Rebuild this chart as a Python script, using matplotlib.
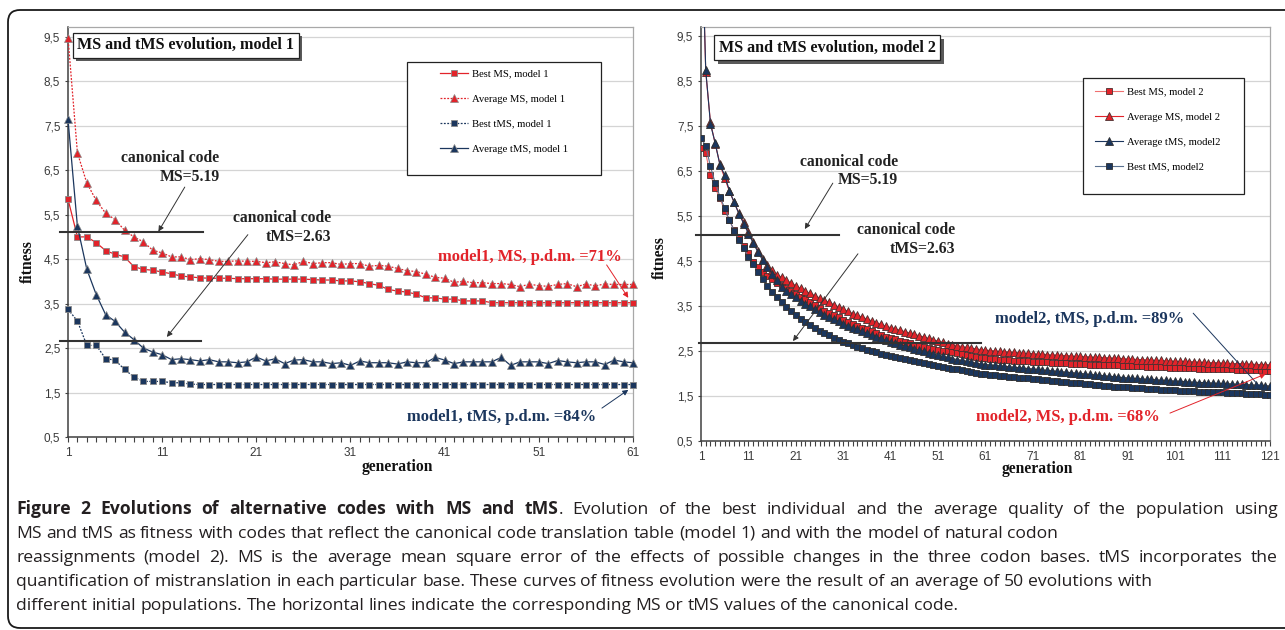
import matplotlib
matplotlib.use("Agg")
import matplotlib.pyplot as plt
import matplotlib.patheffects as pe
from matplotlib.patches import Rectangle, FancyBboxPatch
from matplotlib.ticker import FixedLocator, MultipleLocator, FuncFormatter
from matplotlib.transforms import IdentityTransform

# ---------------------------------------------------------
# Data
# ---------------------------------------------------------
gens_m1 = list(range(1, 62))
gens_m2 = list(range(1, 122))

best_ms_m1 = [5.85, 5.00, 5.00, 4.87, 4.69, 4.61, 4.55, 4.33, 4.27, 4.25,
              4.21, 4.17, 4.12, 4.10, 4.08, 4.07, 4.07, 4.07, 4.06, 4.06,
              4.06, 4.06, 4.05, 4.05, 4.05, 4.05, 4.04, 4.03, 4.03, 4.01,
              4.01, 3.99, 3.95, 3.91, 3.82, 3.78, 3.76, 3.71, 3.63, 3.63,
              3.60, 3.60, 3.56, 3.56, 3.56, 3.52, 3.52, 3.52, 3.52, 3.52,
              3.52, 3.52, 3.52, 3.52, 3.52, 3.52, 3.52, 3.52, 3.52, 3.52,
              3.52]
avg_ms_m1 = [9.48, 6.89, 6.21, 5.82, 5.53, 5.39, 5.15, 5.00, 4.89, 4.70,
             4.64, 4.55, 4.55, 4.49, 4.51, 4.49, 4.45, 4.45, 4.46, 4.45,
             4.45, 4.42, 4.44, 4.40, 4.37, 4.45, 4.40, 4.42, 4.42, 4.38,
             4.40, 4.40, 4.34, 4.36, 4.34, 4.29, 4.24, 4.22, 4.16, 4.09,
             4.07, 3.98, 4.00, 3.97, 3.97, 3.95, 3.95, 3.93, 3.88, 3.94,
             3.90, 3.89, 3.93, 3.95, 3.88, 3.94, 3.90, 3.94, 3.93, 3.93,
             3.93]
best_tms_m1 = [3.37, 3.11, 2.56, 2.56, 2.26, 2.23, 2.02, 1.85, 1.75, 1.75,
               1.75, 1.72, 1.72, 1.69, 1.68, 1.68, 1.68, 1.68, 1.68, 1.68,
               1.68, 1.68, 1.68, 1.68, 1.68, 1.68, 1.68, 1.68, 1.68, 1.68,
               1.68, 1.68, 1.68, 1.68, 1.68, 1.68, 1.68, 1.68, 1.68, 1.68,
               1.68, 1.68, 1.68, 1.68, 1.68, 1.68, 1.68, 1.68, 1.68, 1.68,
               1.68, 1.68, 1.68, 1.68, 1.68, 1.68, 1.68, 1.68, 1.68, 1.68,
               1.68]
avg_tms_m1 = [7.64, 5.24, 4.27, 3.70, 3.25, 3.10, 2.86, 2.69, 2.50, 2.41,
              2.35, 2.24, 2.26, 2.24, 2.21, 2.24, 2.19, 2.19, 2.17, 2.19,
              2.30, 2.21, 2.26, 2.15, 2.23, 2.24, 2.19, 2.19, 2.15, 2.17,
              2.11, 2.21, 2.17, 2.17, 2.17, 2.14, 2.19, 2.17, 2.17, 2.29,
              2.23, 2.15, 2.19, 2.19, 2.19, 2.19, 2.29, 2.11, 2.19, 2.19,
              2.19, 2.15, 2.22, 2.19, 2.17, 2.19, 2.19, 2.13, 2.23, 2.19,
              2.17]

best_ms_m2 = [7.00, 6.89, 6.41, 6.12, 5.89, 5.62, 5.40, 5.19, 5.00, 4.83,
              4.67, 4.48, 4.36, 4.26, 4.17, 4.09, 4.02, 3.96, 3.89, 3.83,
              3.77, 3.71, 3.65, 3.59, 3.53, 3.46, 3.40, 3.35, 3.30, 3.25,
              3.20, 3.15, 3.10, 3.06, 3.02, 2.98, 2.94, 2.90, 2.86, 2.82,
              2.79, 2.76, 2.73, 2.70, 2.67, 2.64, 2.61, 2.59, 2.57, 2.55,
              2.53, 2.51, 2.49, 2.47, 2.45, 2.43, 2.41, 2.39, 2.37, 2.35,
              2.34, 2.33, 2.32, 2.31, 2.30, 2.29, 2.28, 2.28, 2.27, 2.27,
              2.26, 2.26, 2.25, 2.25, 2.24, 2.24, 2.23, 2.23, 2.22, 2.22,
              2.21, 2.21, 2.20, 2.20, 2.19, 2.19, 2.19, 2.18, 2.18, 2.17,
              2.17, 2.17, 2.16, 2.16, 2.15, 2.15, 2.15, 2.14, 2.14, 2.13,
              2.13, 2.13, 2.12, 2.12, 2.12, 2.11, 2.11, 2.11, 2.10, 2.10,
              2.09, 2.09, 2.09, 2.08, 2.08, 2.08, 2.07, 2.07, 2.07, 2.06,
              2.06]
avg_ms_m2 = [12.5, 8.70, 7.58, 7.10, 6.65, 6.34, 6.05, 5.80, 5.56, 5.36,
             5.15, 4.93, 4.73, 4.55, 4.41, 4.29, 4.19, 4.14, 4.07, 4.01,
             3.95, 3.89, 3.83, 3.78, 3.73, 3.68, 3.63, 3.58, 3.53, 3.48,
             3.43, 3.38, 3.33, 3.29, 3.25, 3.21, 3.17, 3.13, 3.09, 3.05,
             3.02, 2.99, 2.96, 2.93, 2.90, 2.87, 2.84, 2.81, 2.78, 2.75,
             2.72, 2.69, 2.66, 2.64, 2.62, 2.60, 2.58, 2.56, 2.55, 2.53,
             2.52, 2.51, 2.50, 2.49, 2.48, 2.48, 2.47, 2.46, 2.45, 2.45,
             2.44, 2.43, 2.43, 2.42, 2.41, 2.41, 2.40, 2.40, 2.39, 2.38,
             2.38, 2.37, 2.37, 2.36, 2.36, 2.35, 2.35, 2.34, 2.34, 2.33,
             2.32, 2.32, 2.31, 2.31, 2.30, 2.30, 2.29, 2.29, 2.28, 2.28,
             2.27, 2.27, 2.27, 2.26, 2.26, 2.25, 2.25, 2.24, 2.24, 2.24,
             2.23, 2.23, 2.22, 2.22, 2.22, 2.21, 2.21, 2.20, 2.20, 2.20,
             2.19]
avg_tms_m2 = [12.5, 8.74, 7.54, 7.12, 6.63, 6.41, 6.06, 5.80, 5.55, 5.33,
              5.11, 4.90, 4.70, 4.52, 4.36, 4.21, 4.07, 3.92, 3.84, 3.76,
              3.69, 3.62, 3.55, 3.49, 3.43, 3.37, 3.31, 3.26, 3.21, 3.16,
              3.11, 3.06, 3.02, 2.98, 2.94, 2.90, 2.86, 2.82, 2.78, 2.74,
              2.71, 2.67, 2.64, 2.61, 2.58, 2.55, 2.52, 2.49, 2.46, 2.43,
              2.41, 2.38, 2.36, 2.33, 2.31, 2.29, 2.27, 2.25, 2.23, 2.21,
              2.20, 2.19, 2.18, 2.17, 2.16, 2.15, 2.14, 2.13, 2.12, 2.11,
              2.10, 2.09, 2.08, 2.07, 2.06, 2.05, 2.04, 2.03, 2.02, 2.01,
              2.00, 1.99, 1.98, 1.97, 1.96, 1.95, 1.94, 1.93, 1.92, 1.91,
              1.90, 1.89, 1.89, 1.88, 1.87, 1.87, 1.86, 1.85, 1.85, 1.84,
              1.83, 1.83, 1.82, 1.81, 1.81, 1.80, 1.80, 1.79, 1.79, 1.78,
              1.78, 1.77, 1.77, 1.76, 1.76, 1.75, 1.75, 1.74, 1.74, 1.73,
              1.72]
best_tms_m2 = [7.23, 7.06, 6.60, 6.23, 5.93, 5.67, 5.41, 5.17, 4.97, 4.78,
               4.60, 4.43, 4.26, 4.10, 3.95, 3.82, 3.70, 3.59, 3.48, 3.38,
               3.29, 3.21, 3.14, 3.07, 3.01, 2.95, 2.90, 2.85, 2.80, 2.75,
               2.71, 2.67, 2.63, 2.59, 2.56, 2.53, 2.50, 2.47, 2.44, 2.41,
               2.39, 2.36, 2.34, 2.32, 2.29, 2.27, 2.25, 2.23, 2.21, 2.19,
               2.17, 2.15, 2.13, 2.11, 2.09, 2.07, 2.05, 2.03, 2.01, 1.99,
               1.98, 1.97, 1.96, 1.95, 1.94, 1.93, 1.92, 1.91, 1.90, 1.89,
               1.88, 1.87, 1.86, 1.85, 1.84, 1.83, 1.82, 1.81, 1.80, 1.79,
               1.78, 1.77, 1.76, 1.75, 1.74, 1.73, 1.72, 1.71, 1.71, 1.70,
               1.69, 1.68, 1.68, 1.67, 1.66, 1.66, 1.65, 1.64, 1.64, 1.63,
               1.63, 1.62, 1.62, 1.61, 1.61, 1.60, 1.60, 1.59, 1.59, 1.58,
               1.58, 1.57, 1.57, 1.56, 1.56, 1.55, 1.55, 1.54, 1.54, 1.53,
               1.52]

# canonical code levels, as drawn in the picture
canon_m1 = [5.10, 2.65]
canon_m2 = [5.08, 2.67]

ytick_vals = [0.5, 1.5, 2.5, 3.5, 4.5, 5.5, 6.5, 7.5, 8.5, 9.5]
xtick_m1 = [1, 11, 21, 31, 41, 51, 61]
xtick_m2 = [1, 11, 21, 31, 41, 51, 61, 71, 81, 91, 101, 111, 121]

labels_m1 = ["Best MS, model 1", "Average MS, model 1",
             "Best tMS, model 1", "Average tMS, model 1"]
labels_m2 = ["Best MS, model 2", "Average MS, model 2",
             "Average tMS, model2", "Best tMS, model2"]

caption_bold = "Figure 2 Evolutions of alternative codes with MS and tMS"
caption_first = ". Evolution of the best individual and the average quality of the population using"
caption_lines = [
    "MS and tMS as fitness with codes that reflect the canonical code translation table (model 1) and with the model of natural codon",
    "reassignments (model 2). MS is the average mean square error of the effects of possible changes in the three codon bases. tMS incorporates the",
    "quantification of mistranslation in each particular base. These curves of fitness evolution were the result of an average of 50 evolutions with",
    "different initial populations. The horizontal lines indicate the corresponding MS or tMS values of the canonical code.",
]

# ---------------------------------------------------------
# Styles
# ---------------------------------------------------------
W, H = 1285, 630
RED = "#e2232a"
NAVY = "#1b365d"
SERIF = "Liberation Serif"
SANS = "Liberation Sans"
CAP = "Open Sans"
CAP_SIZE = 12.6


def fx(px):
    return px / W


def fy(py):
    return 1 - py / H


def style_axes(ax, xticks, xmax, ymax):
    ax.set_xlim(1, xmax)
    ax.set_ylim(0.5, ymax)
    ax.xaxis.set_major_locator(FixedLocator(xticks))
    ax.xaxis.set_minor_locator(MultipleLocator(1))
    ax.yaxis.set_major_locator(FixedLocator(ytick_vals))
    ax.yaxis.set_major_formatter(FuncFormatter(lambda v, p: f"{v:.1f}".replace(".", ",")))
    ax.tick_params(axis="x", which="both", direction="out", length=3.5, width=0.8,
                   color="#404040", pad=4)
    ax.tick_params(axis="y", which="major", direction="out", length=2.5, width=0.8,
                   color="#404040", pad=3)
    for lab in ax.get_xticklabels() + ax.get_yticklabels():
        lab.set_fontfamily(SANS)
        lab.set_fontsize(8.5)
        lab.set_color("#3a3a3a")
    ax.grid(axis="y", color="#d4d4d4", linewidth=0.9)
    ax.set_axisbelow(True)
    for side in ("top", "right"):
        ax.spines[side].set_color("#a8a8a8")
        ax.spines[side].set_linewidth(0.9)
    for side in ("left", "bottom"):
        ax.spines[side].set_color("#404040")
        ax.spines[side].set_linewidth(1.1)


def title_box(ax, text, x, y):
    t = ax.text(x, y, text, transform=ax.transAxes, va="center", ha="left",
                fontfamily=SERIF, fontweight="bold", fontsize=11.6, color="#111111",
                bbox=dict(boxstyle="square,pad=0.28", fc="white", ec="#222222", lw=0.9))
    t.get_bbox_patch().set_path_effects([
        pe.SimplePatchShadow(offset=(2.5, -2.5), shadow_rgbFace="#5a5a5a", alpha=1.0),
        pe.Normal()])


def legend_box(ax, handles, labels, anchor, frame):
    x0, y0, w, h = frame
    ax.add_patch(Rectangle((x0, y0), w, h, transform=ax.transAxes, fc="white",
                           ec="#222222", lw=0.9, zorder=5))
    leg = ax.legend(handles, labels, loc="upper left", bbox_to_anchor=anchor,
                    frameon=False, borderaxespad=0, borderpad=0, handlelength=2.6,
                    handletextpad=0.4, labelspacing=1.45,
                    prop=dict(family=SERIF, size=7.7))
    leg.set_zorder(6)


def arrow(ax, tail, tip, color):
    ax.annotate("", xy=tip, xytext=tail, annotation_clip=False,
                arrowprops=dict(arrowstyle="-|>", color=color, lw=0.7,
                                mutation_scale=8, shrinkA=0, shrinkB=0))


fig = plt.figure(figsize=(W / 100, H / 100), dpi=100)

# outer rounded frame
fig.add_artist(FancyBboxPatch((8, 2), 1320, 618, boxstyle="round,pad=0,rounding_size=12",
                              transform=IdentityTransform(), fc="none", ec="#1a1a1a", lw=1.3))

ann_font = dict(fontfamily=SERIF, fontweight="bold", fontsize=11.3)
pdm_font = dict(fontfamily=SERIF, fontweight="bold", fontsize=11.9)

# ---------------------------------------------------------
# Model 1 panel
# ---------------------------------------------------------
ax1 = fig.add_axes([fx(68), fy(437), fx(633) - fx(68), fy(27) - fy(437)])
h1, = ax1.plot(gens_m1, best_ms_m1, "-", color=RED, lw=0.9, marker="s", ms=4.6,
               mfc=RED, mec="#8a8a8a", mew=0.6, clip_on=False, zorder=3)
h2, = ax1.plot(gens_m1, avg_ms_m1, linestyle=(0, (1.5, 1.2)), color=RED, lw=0.9, marker="^",
               ms=5.4, mfc=RED, mec="#8a8a8a", mew=0.5, clip_on=False, zorder=3)
h3, = ax1.plot(gens_m1, best_tms_m1, linestyle=(0, (1.5, 1.2)), color=NAVY, lw=0.9, marker="s",
               ms=4.6, mfc=NAVY, mec="#8a8a8a", mew=0.6, clip_on=False, zorder=3)
h4, = ax1.plot(gens_m1, avg_tms_m1, "-", color=NAVY, lw=0.9, marker="^", ms=5.4,
               mfc=NAVY, mec="#8a8a8a", mew=0.5, clip_on=False, zorder=3)
style_axes(ax1, xtick_m1, 61, 9.72)

for yv, x_end in zip(canon_m1, [15.3, 15.1]):
    ax1.plot([0.15, x_end], [yv, yv], color="#333333", lw=1.5, clip_on=False, zorder=4)

ax1.text(17.1, 6.56, "canonical code\nMS=5.19", ha="right", va="center",
         multialignment="right", linespacing=1.2, color="#222222", **ann_font)
arrow(ax1, (13.4, 6.12), (10.6, 5.12), "#333333")
ax1.text(28.9, 5.21, "canonical code\ntMS=2.63", ha="right", va="center",
         multialignment="right", linespacing=1.2, color="#222222", **ann_font)
arrow(ax1, (20.1, 5.05), (11.5, 2.75), "#333333")
ax1.text(50.0, 4.55, "model1, MS, p.d.m. =71%", ha="center", va="center", color=RED,
         **pdm_font)
arrow(ax1, (58.2, 4.37), (60.5, 3.63), RED)
ax1.text(47.0, 0.95, "model1, tMS, p.d.m. =84%", ha="center", va="center", color=NAVY,
         **pdm_font)
arrow(ax1, (57.7, 1.15), (60.5, 1.56), NAVY)

title_box(ax1, "MS and tMS evolution, model 1", 0.016, 0.956)
legend_box(ax1, [h1, h2, h3, h4], labels_m1, (0.658, 0.897), (0.60, 0.639, 0.343, 0.276))

# ---------------------------------------------------------
# Model 2 panel
# ---------------------------------------------------------
ax2 = fig.add_axes([fx(701), fy(441), fx(1270) - fx(701), fy(27) - fy(441)])
g1, = ax2.plot(gens_m2, best_ms_m2, "-", color="#f07070", lw=0.8, marker="s", ms=5.0,
               mfc=RED, mec="#4a3030", mew=0.6, zorder=3)
g2, = ax2.plot(gens_m2, avg_ms_m2, "-", color=RED, lw=0.8, marker="^", ms=5.6,
               mfc=RED, mec="#4a3030", mew=0.6, zorder=3)
g3, = ax2.plot(gens_m2, avg_tms_m2, "-", color=NAVY, lw=0.8, marker="^", ms=5.6,
               mfc=NAVY, mec="#303030", mew=0.6, zorder=3)
g4, = ax2.plot(gens_m2, best_tms_m2, "-", color="#5a7090", lw=0.8, marker="s", ms=5.0,
               mfc=NAVY, mec="#303030", mew=0.6, zorder=3)
style_axes(ax2, xtick_m2, 121, 9.7)

for yv, xs in zip(canon_m2, [(0.0, 30.0), (0.5, 60.0)]):
    ax2.plot(list(xs), [yv, yv], color="#333333", lw=1.5, clip_on=False, zorder=4)

ax2.text(42.5, 6.50, "canonical code\nMS=5.19", ha="right", va="center",
         multialignment="right", linespacing=1.2, color="#222222", **ann_font)
arrow(ax2, (28.8, 6.23), (22.9, 5.21), "#333333")
ax2.text(54.6, 4.98, "canonical code\ntMS=2.63", ha="right", va="center",
         multialignment="right", linespacing=1.2, color="#222222", **ann_font)
arrow(ax2, (34.1, 4.66), (20.4, 2.72), "#333333")
ax2.text(83.0, 3.21, "model2, tMS, p.d.m. =89%", ha="center", va="center", color=NAVY,
         **pdm_font)
arrow(ax2, (104.8, 3.34), (119.5, 1.63), NAVY)
ax2.text(78.3, 1.03, "model2, MS, p.d.m. =68%", ha="center", va="center", color=RED,
         **pdm_font)
arrow(ax2, (99.9, 1.12), (120.1, 1.99), RED)

title_box(ax2, "MS and tMS evolution, model 2", 0.031, 0.950)
legend_box(ax2, [g1, g2, g3, g4], labels_m2, (0.692, 0.855), (0.671, 0.597, 0.283, 0.28))

# axis titles (kept just clear of the tick labels)
for px, py in [(28, 262), (660, 258)]:
    fig.text(fx(px), fy(py), "fitness", rotation=90, ha="center", va="center",
             fontfamily=SERIF, fontweight="bold", fontsize=11.3, color="#111111")
for px, py in [(397, 467), (1037, 469)]:
    fig.text(fx(px), fy(py), "generation", ha="center", va="center",
             fontfamily=SERIF, fontweight="bold", fontsize=11.3, color="#111111")

# ---------------------------------------------------------
# Caption (first and third lines justified)
# ---------------------------------------------------------
renderer = fig.canvas.get_renderer()


def text_width(s, weight):
    t = fig.text(0, 0, s, fontfamily=CAP, fontsize=CAP_SIZE, fontweight=weight)
    w = t.get_window_extent(renderer).width
    t.remove()
    return w


def draw_caption_line(tokens, py, justify, x0=16, x1=1278):
    # tokens: (word, weight, glued-to-previous)
    widths = [text_width(w, wt) for w, wt, _ in tokens]
    space = text_width("a a", "normal") - text_width("aa", "normal")
    n_gaps = sum(1 for i, tk in enumerate(tokens) if i > 0 and not tk[2])
    if justify and n_gaps:
        space = (x1 - x0 - sum(widths)) / n_gaps
    x = x0
    for i, (word, weight, glued) in enumerate(tokens):
        if i > 0 and not glued:
            x += space
        fig.text(fx(x), fy(py), word, ha="left", va="baseline", fontfamily=CAP,
                 fontsize=CAP_SIZE, fontweight=weight, color="#231f20")
        x += widths[i]


first = [(w, "bold", False) for w in caption_bold.split()]
first.append((".", "normal", True))
first += [(w, "normal", False) for w in caption_first[1:].split()]
draw_caption_line(first, 514, True)
for i, line in enumerate(caption_lines):
    toks = [(w, "normal", False) for w in line.split()]
    draw_caption_line(toks, 538 + 24 * i, i == 1)

fig.savefig("out.png", dpi=100)
